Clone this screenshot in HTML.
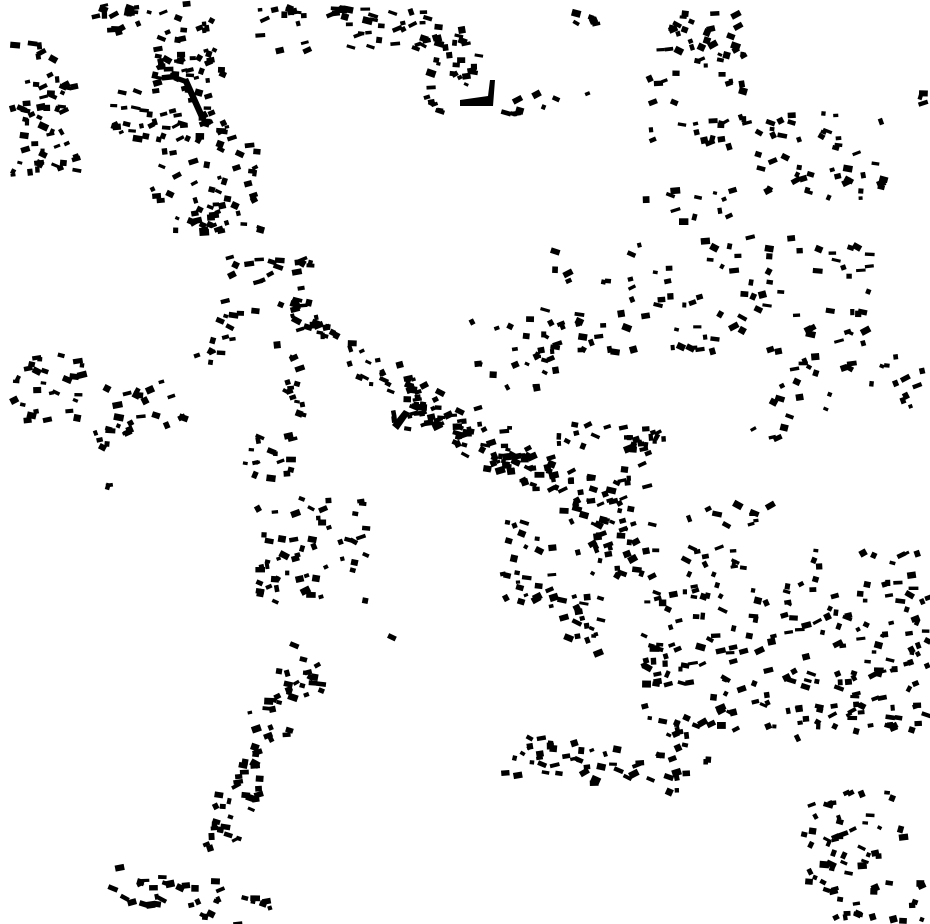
<!DOCTYPE html>
<html><head><meta charset="utf-8"><style>
html,body{margin:0;padding:0;background:#fff;width:930px;height:924px;overflow:hidden}
svg{display:block}
</style></head><body>
<svg id="s" width="930" height="924" viewBox="0 0 930 924" xmlns="http://www.w3.org/2000/svg">
<rect x="0" y="0" width="930" height="924" fill="#fff"/>
<g id="g" fill="#000">
<polygon points="460,100 488,96 490,80 495,80 493,106 460,106"/>
<polygon points="182,80 188,78 206,118 200,120"/>
<polygon points="392,425 404,410 410,413 398,430"/>
</g>
</svg>
<script>
var seed=12345;function r(){seed=(seed*1103515245+12345)%2147483648;return seed/2147483648;}
var C=[
[85,0,60,30,15],[140,0,70,80,30],[150,40,70,40,18],[10,40,40,20,6],[8,70,65,110,50],
[110,85,100,40,30],[115,120,120,20,22],[150,140,110,90,40],[185,200,50,30,15],
[255,5,50,45,15],[325,5,100,45,32],[400,20,75,60,25],[420,70,50,40,10],
[500,90,90,25,10],[560,8,45,15,5],[645,5,100,140,60],[755,110,125,90,45],[635,185,95,35,12],[905,90,15,25,3],
[220,255,90,60,28],[185,315,45,45,10],
[545,235,330,115,100],[465,300,90,90,28],[740,350,180,90,32],
[10,350,70,70,28],[100,380,80,60,22],[80,425,30,20,5],[240,430,50,45,16],
[605,460,40,30,8],[250,495,115,110,55],
[500,520,50,80,25],[575,520,70,55,22],[545,590,55,60,20],[680,500,100,35,10],
[640,545,285,190,230],[650,715,70,30,10],[800,790,120,130,65],
[275,655,45,40,12],[100,480,15,15,2],[380,630,10,10,1]
];
var L=[
[295,310,420,400,14,40],[400,395,640,530,22,140],[545,430,660,440,12,28],
[285,350,300,415,12,14],[290,660,215,840,18,55],[115,880,260,910,18,35],[515,750,700,775,20,50]
];
var g=document.getElementById('g'),h='';
function add(x,y){var w=4+r()*6,hh=3+r()*4,a=(r()-0.5)*60;
h+='<rect x="'+x.toFixed(1)+'" y="'+y.toFixed(1)+'" width="'+w.toFixed(1)+'" height="'+hh.toFixed(1)+'" transform="rotate('+a.toFixed(0)+' '+(x+w/2).toFixed(1)+' '+(y+hh/2).toFixed(1)+')"/>';}
C.forEach(function(c){for(var i=0;i<c[4];i++){add(c[0]+r()*c[2],c[1]+r()*c[3]);}});
L.forEach(function(l){for(var i=0;i<l[5];i++){var t=r();add(l[0]+(l[2]-l[0])*t+(r()-0.5)*2*l[4],l[1]+(l[3]-l[1])*t+(r()-0.5)*2*l[4]);}});
g.innerHTML+=h;
</script>
</body></html>
